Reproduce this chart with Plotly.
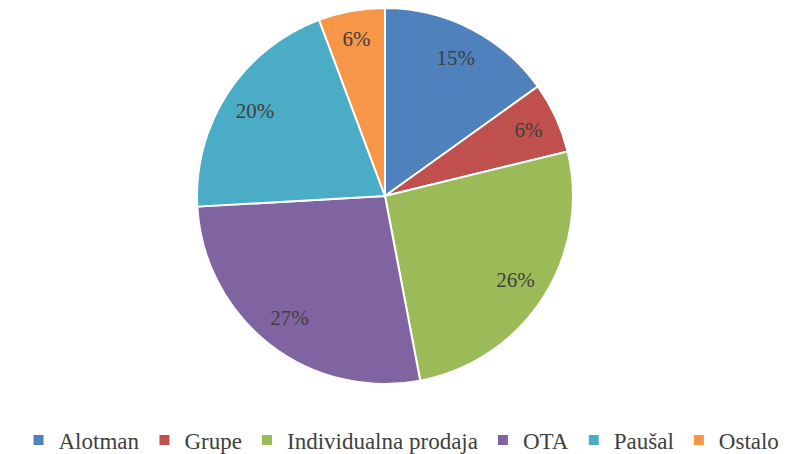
import plotly.graph_objects as go

W, H = 787, 454

kategorije = ["Alotman", "Grupe", "Individualna prodaja", "OTA", "Paušal", "Ostalo"]
udjeli = [15.1, 6.1, 25.8, 27.1, 20.2, 5.7]
boje = ["#4F81BD", "#C0504D", "#9BBB59", "#8064A2", "#4BACC6", "#F79646"]

SERIF = "Times New Roman, Liberation Serif, DejaVu Serif, serif"

# pie centre ~ (377,188) in figure px (page body adds 8px), radius ~188 px
cx, cy, r = 377, 188, 188
dom = dict(x=[(cx - r) / W, (cx + r) / W], y=[1 - (cy + r) / H, 1 - (cy - r) / H])

fig = go.Figure()
fig.add_pie(
    labels=kategorije,
    values=udjeli,
    sort=False,
    direction="clockwise",
    rotation=0,
    marker=dict(colors=boje, line=dict(color="white", width=2)),
    textinfo="none",
    domain=dom,
    hoverinfo="label+percent",
)
# transparent ring, only to push the percent labels out towards the rim
fig.add_pie(
    labels=kategorije,
    values=udjeli,
    sort=False,
    direction="clockwise",
    rotation=0,
    hole=0.65,
    marker=dict(colors=["rgba(0,0,0,0)"] * len(udjeli), line=dict(width=0)),
    texttemplate="%{percent:.0%}",
    textposition="inside",
    insidetextorientation="horizontal",
    textfont=dict(family=SERIF, size=21, color="#404040"),
    domain=dom,
    showlegend=False,
    hoverinfo="skip",
)
fig.update_layout(
    width=W,
    height=H,
    margin=dict(l=0, r=0, t=0, b=0),
    paper_bgcolor="white",
    uniformtext=dict(minsize=21, mode="show"),
    legend=dict(
        orientation="h",
        x=0.5, xanchor="center",
        y=22 / H, yanchor="middle",
        font=dict(family=SERIF, size=23, color="#404040"),
        itemwidth=30,
        traceorder="normal",
    ),
)
fig.write_html("out.html")
